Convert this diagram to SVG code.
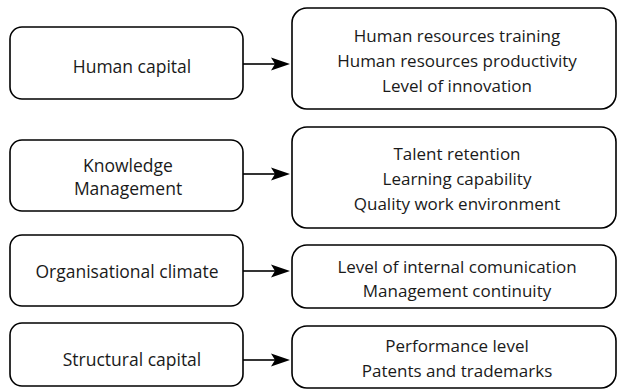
<svg xmlns="http://www.w3.org/2000/svg" width="617" height="390" viewBox="0 0 617 390">
<style>
.box{fill:#fff;stroke:#000;stroke-width:1.6}
.t{font-family:"Open Sans",sans-serif;font-size:17px;fill:#1a1a1a;text-anchor:middle}
.l{font-size:17.5px}
.c{stroke:#000;stroke-width:1.6;fill:none}
.ah{fill:#000;stroke:none}
</style>
<rect width="617" height="390" fill="#fff"/>
<g id="n1"><rect class="box" x="10" y="27" width="233" height="72" rx="12"/><text class="t l" x="132" y="72.5">Human capital</text></g>
<g id="n2"><rect class="box" x="10" y="140" width="233" height="71" rx="12"/><text class="t l" x="128" y="171.5">Knowledge</text><text class="t l" x="128" y="195">Management</text></g>
<g id="n3"><rect class="box" x="10" y="235" width="233" height="71" rx="12"/><text class="t l" x="127" y="277.5">Organisational climate</text></g>
<g id="n4"><rect class="box" x="10" y="323" width="233" height="63" rx="12"/><text class="t l" x="132" y="365.5">Structural capital</text></g>
<g id="r1"><rect class="box" x="292" y="8" width="324" height="101" rx="15"/><text class="t" x="457" y="41.5">Human resources training</text><text class="t" x="457" y="66.5">Human resources productivity</text><text class="t" x="457" y="91.5">Level of innovation</text></g>
<g id="r2"><rect class="box" x="292" y="127" width="324" height="101" rx="15"/><text class="t" x="457" y="160">Talent retention</text><text class="t" x="457" y="185">Learning capability</text><text class="t" x="457" y="210">Quality work environment</text></g>
<g id="r3"><rect class="box" x="292" y="245" width="324" height="63" rx="15"/><text class="t" x="457" y="272.5">Level of internal comunication</text><text class="t" x="457" y="296.5">Management continuity</text></g>
<g id="r4"><rect class="box" x="292" y="326" width="324" height="62" rx="15"/><text class="t" x="457" y="351.5">Performance level</text><text class="t" x="457" y="376.5">Patents and trademarks</text></g>
<g id="connectors">
<path class="c" d="M243 64H275"/><path class="ah" d="M290 64L271 57.5L275 64L271 70.5Z"/>
<path class="c" d="M243 174H275"/><path class="ah" d="M290 174L271 167.5L275 174L271 180.5Z"/>
<path class="c" d="M243 271H275"/><path class="ah" d="M290 271L271 264.5L275 271L271 277.5Z"/>
<path class="c" d="M243 360H275"/><path class="ah" d="M290 360L271 353.5L275 360L271 366.5Z"/>
</g>
</svg>
